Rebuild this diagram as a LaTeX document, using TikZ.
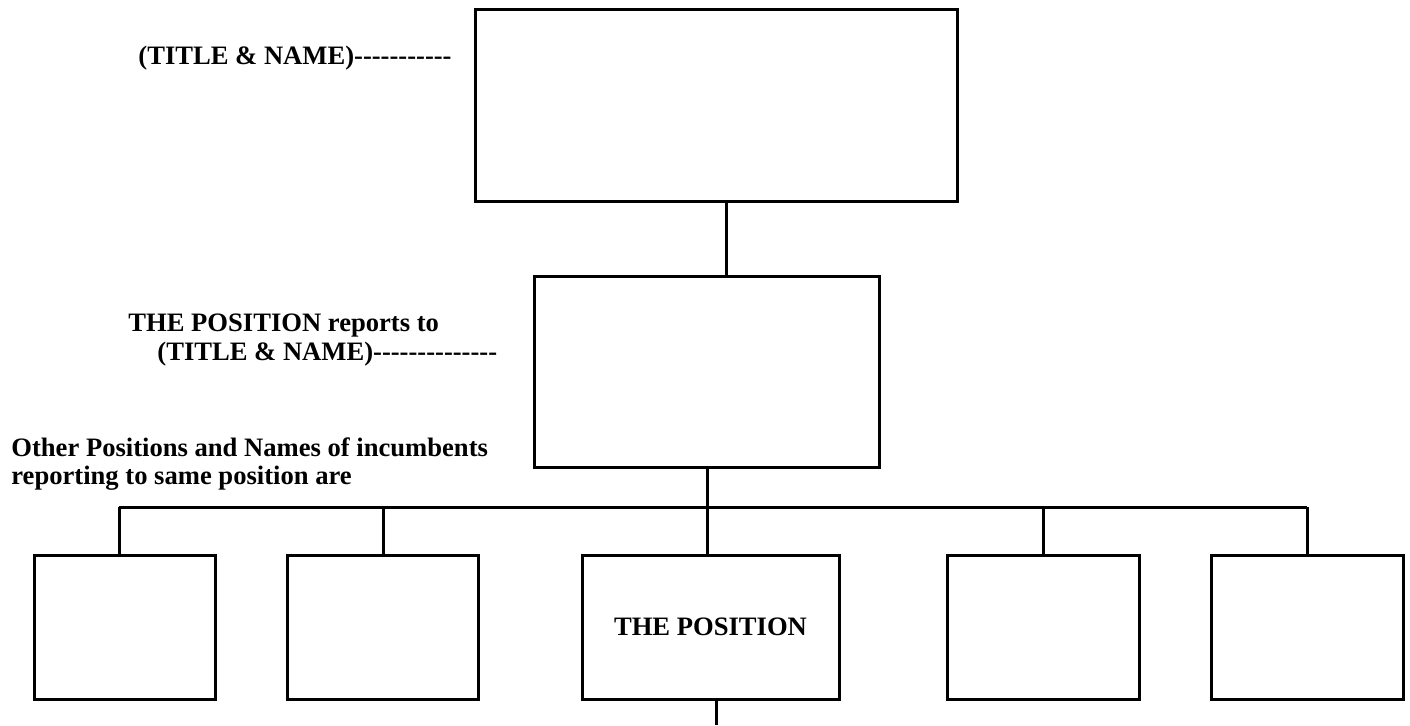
\documentclass[tikz,border=0pt]{standalone}
\usepackage{fontspec}
\setmainfont{Liberation Serif}[Ligatures=TeXOff]

\begin{document}
\begin{tikzpicture}[x=0.5pt, y=-0.5pt,
    post/.style ={rectangle, draw, line width=1.5pt, inner sep=0pt},
    note/.style ={anchor=west, inner sep=0pt, font=\fontsize{13.3}{15}\selectfont\bfseries}]
   \useasboundingbox (0,0) rectangle (1410,725);
   % boxes
   \node[post, minimum width=241pt, minimum height=96pt] (boss) at (716,105) {};
   \node[post, minimum width=172.5pt, minimum height=95.5pt] (head) at (706.5,371.5) {};
   \node[post, minimum width=90.5pt, minimum height=72pt] (peerA) at (124.5,627) {};
   \node[post, minimum width=95.5pt, minimum height=72pt] (peerB) at (382.5,627) {};
   \node[post, minimum width=128.5pt, minimum height=72pt] (self) at (710.5,627) {\fontsize{13.3}{15}\selectfont\bfseries THE POSITION};
   \node[post, minimum width=96pt, minimum height=72pt] (peerC) at (1043,627) {};
   \node[post, minimum width=96pt, minimum height=72pt] (peerD) at (1307,627) {};
   % labels
   \node[note] (bossnote) at (138,58) {(TITLE \& NAME)-----------};
   \node[note] (headnote) at (128,326) {THE POSITION reports to};
   \node[note] (headname) at (157,354) {(TITLE \& NAME)--------------};
   \node[note] (peernote) at (11,447) {Other Positions and Names of incumbents};
   \node[note] (peerline) at (11,478) {reporting to same position are};
   % lines
   \coordinate (busL) at (119,507);
   \coordinate (busR) at (1307,507);
   \coordinate (busM) at (707,507);
   \coordinate (tail) at (716,725);
   \draw[line width=1.5pt] (boss.south -| 726,0) -- (head.north -| 726,0);
   \draw[line width=1.5pt] (head.south -| busM) -- (busM);
   \draw[line width=1.5pt] (busL) -- (busR);
   \draw[line width=1.5pt] (busL) -- (peerA.north -| busL);
   \draw[line width=1.5pt] (383,507) -- (peerB.north -| 383,0);
   \draw[line width=1.5pt] (busM) -- (self.north -| busM);
   \draw[line width=1.5pt] (1043,507) -- (peerC.north);
   \draw[line width=1.5pt] (busR) -- (peerD.north);
   \draw[line width=1.5pt] (self.south -| tail) -- (tail);
\end{tikzpicture}
\end{document}
